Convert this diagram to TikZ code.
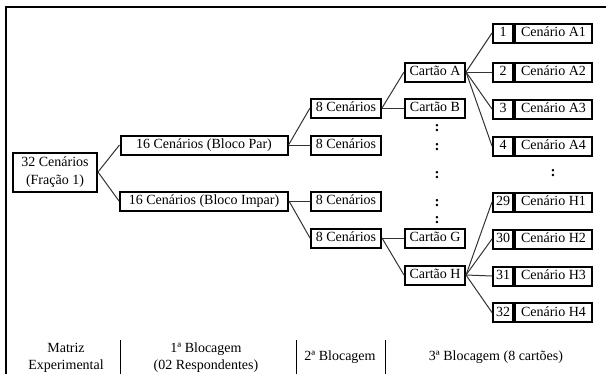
\documentclass[tikz,border=0pt]{standalone}
\usepackage{fontspec}
\setmainfont{Liberation Serif}
\begin{document}
\begin{tikzpicture}[x=1pt,y=-1pt,
  box/.style={draw=black,line width=2pt,fill=white,inner sep=0pt,
    minimum height=19pt,font=\fontsize{14}{18}\selectfont,
    text height=10pt,text depth=3pt},
  conn/.style={draw=black!80,line width=1pt},
  dots/.style={font=\fontsize{15}{16}\selectfont\bfseries,inner sep=0pt},
  lbl/.style={font=\fontsize{14}{17}\selectfont,align=center,inner sep=0pt},
  frame/.style={draw=black,line width=1.4pt},
  sep/.style={draw=black,line width=1pt}]
\useasboundingbox (0,0) rectangle (606,373);
\clip (0,0) rectangle (606,373);

% outer frame (top and left edges)
\draw[frame] (606,7) -- (6,7) -- (6,380);

% experimental matrix and first blocking
\node[box,align=center,minimum width=84pt,minimum height=39pt,text height=,text depth=] (m32) at (55,172) {32 Cenários\\(Fração 1)};
\node[box,minimum width=167pt] (par) at (204,145) {16 Cenários (Bloco Par)};
\node[box,minimum width=168pt] (impar) at (204,201) {16 Cenários (Bloco Impar)};

% second blocking
\node[box,minimum width=70pt] (c1) at (346,108) {8 Cenários};
\node[box,minimum width=70pt] (c2) at (346,145) {8 Cenários};
\node[box,minimum width=70pt] (c3) at (346,201) {8 Cenários};
\node[box,minimum width=70pt] (c4) at (346,238) {8 Cenários};

% cards
\node[box,minimum width=60pt] (ka) at (435,72) {Cartão A};
\node[box,minimum width=60pt] (kb) at (435,108) {Cartão B};
\node[box,minimum width=60pt] (kg) at (435,238) {Cartão G};
\node[box,minimum width=60pt] (kh) at (435,275) {Cartão H};

% numbered scenarios of cards A and H
\foreach \n/\lab/\y in {a1/1/33, a2/2/72, a3/3/109, a4/4/146,
                         h1/29/202, h2/30/239, h3/31/276, h4/32/312.5}{
  \node[box,minimum width=20pt] (n\n) at (503,\y) {\lab};
}
\node[box,minimum width=77pt,anchor=west] (sa1) at (na1.east) {Cenário A1};
\node[box,minimum width=77pt,anchor=west] (sa2) at (na2.east) {Cenário A2};
\node[box,minimum width=77pt,anchor=west] (sa3) at (na3.east) {Cenário A3};
\node[box,minimum width=77pt,anchor=west] (sa4) at (na4.east) {Cenário A4};
\node[box,minimum width=77pt,anchor=west] (sh1) at (nh1.east) {Cenário H1};
\node[box,minimum width=77pt,anchor=west] (sh2) at (nh2.east) {Cenário H2};
\node[box,minimum width=77pt,anchor=west] (sh3) at (nh3.east) {Cenário H3};
\node[box,minimum width=77pt,anchor=west] (sh4) at (nh4.east) {Cenário H4};

% connectors
\draw[conn] (m32.east) -- (par.west);
\draw[conn] (m32.east) -- (impar.west);
\draw[conn] (par.east) -- (c1.west);
\draw[conn] (par.east) -- (c2.west);
\draw[conn] (impar.east) -- (c3.west);
\draw[conn] (impar.east) -- (c4.west);
\draw[conn] (c1.east) -- (ka.west);
\draw[conn] (c1.east) -- (kb.west);
\draw[conn] (c4.east) -- (kg.west);
\draw[conn] (c4.east) -- (kh.west);
\foreach \t in {a1,a2,a3,a4} \draw[conn] (ka.east) -- (n\t.west);
\foreach \t in {h1,h2,h3,h4} \draw[conn] (kh.east) -- (n\t.west);

% ellipsis marks
\node[dots] (d1) at (437,128) {:};
\node[dots] (d2) at (437,147) {:};
\node[dots] (d3) at (437,175) {:};
\node[dots] (d4) at (437,203) {:};
\node[dots] (d5) at (437,220) {:};
\node[dots] (d6) at (553,173) {:};

% column captions
\node[lbl] (t1) at (66,358) {Matriz\\Experimental};
\node[lbl] (t2) at (206,358) {1ª Blocagem\\(02 Respondentes)};
\node[lbl] (t3) at (340,357) {2ª Blocagem};
\node[lbl] (t4) at (496,357) {3ª Blocagem (8 cartões)};
\draw[sep] (120,340) -- (120,380);
\draw[sep] (296,340) -- (296,380);
\draw[sep] (385,340) -- (385,380);
\end{tikzpicture}
\end{document}
